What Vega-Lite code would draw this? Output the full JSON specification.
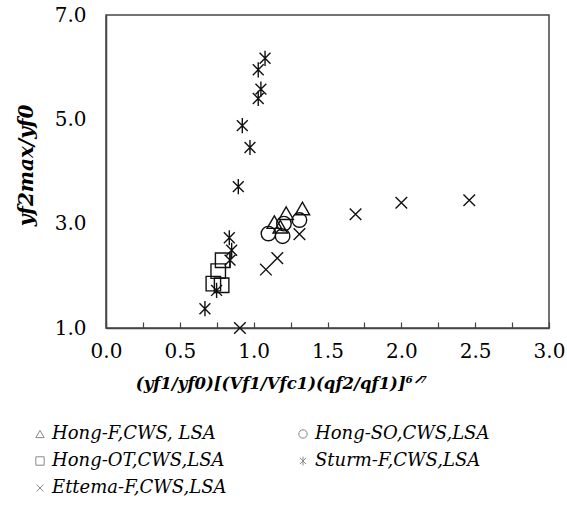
{
  "$schema": "https://vega.github.io/schema/vega-lite/v6.json",
  "width": 443,
  "height": 313,
  "autosize": "none",
  "padding": {"left": 106, "top": 15, "right": 18, "bottom": 182},
  "background": "white",
  "config": {
    "view": {"stroke": "#444", "strokeWidth": 1.5},
    "font": "DejaVu Serif"
  },
  "data": {
    "values": [
      {"series": "Sturm-F,CWS,LSA", "x": 1.077, "y": 6.17},
      {"series": "Sturm-F,CWS,LSA", "x": 1.031, "y": 5.95},
      {"series": "Sturm-F,CWS,LSA", "x": 1.049, "y": 5.58},
      {"series": "Sturm-F,CWS,LSA", "x": 1.031, "y": 5.40},
      {"series": "Sturm-F,CWS,LSA", "x": 0.923, "y": 4.88},
      {"series": "Sturm-F,CWS,LSA", "x": 0.975, "y": 4.46},
      {"series": "Sturm-F,CWS,LSA", "x": 0.896, "y": 3.71},
      {"series": "Sturm-F,CWS,LSA", "x": 0.835, "y": 2.73},
      {"series": "Sturm-F,CWS,LSA", "x": 0.851, "y": 2.49},
      {"series": "Sturm-F,CWS,LSA", "x": 0.84, "y": 2.30},
      {"series": "Sturm-F,CWS,LSA", "x": 0.749, "y": 1.72},
      {"series": "Sturm-F,CWS,LSA", "x": 0.67, "y": 1.37},
      {"series": "Hong-OT,CWS,LSA", "x": 0.79, "y": 2.30},
      {"series": "Hong-OT,CWS,LSA", "x": 0.76, "y": 2.09},
      {"series": "Hong-OT,CWS,LSA", "x": 0.727, "y": 1.85},
      {"series": "Hong-OT,CWS,LSA", "x": 0.783, "y": 1.82},
      {"series": "Hong-F,CWS, LSA", "x": 1.14, "y": 3.03},
      {"series": "Hong-F,CWS, LSA", "x": 1.22, "y": 3.20},
      {"series": "Hong-F,CWS, LSA", "x": 1.33, "y": 3.29},
      {"series": "Hong-F,CWS, LSA", "x": 1.18, "y": 2.94},
      {"series": "Hong-SO,CWS,LSA", "x": 1.10, "y": 2.81},
      {"series": "Hong-SO,CWS,LSA", "x": 1.196, "y": 2.76},
      {"series": "Hong-SO,CWS,LSA", "x": 1.205, "y": 3.00},
      {"series": "Hong-SO,CWS,LSA", "x": 1.31, "y": 3.07},
      {"series": "Ettema-F,CWS,LSA", "x": 1.31, "y": 2.80},
      {"series": "Ettema-F,CWS,LSA", "x": 1.16, "y": 2.34},
      {"series": "Ettema-F,CWS,LSA", "x": 1.083, "y": 2.12},
      {"series": "Ettema-F,CWS,LSA", "x": 0.907, "y": 1.0},
      {"series": "Ettema-F,CWS,LSA", "x": 1.69, "y": 3.18},
      {"series": "Ettema-F,CWS,LSA", "x": 2.0, "y": 3.40},
      {"series": "Ettema-F,CWS,LSA", "x": 2.46, "y": 3.45}
    ]
  },
  "mark": {"type": "point", "filled": false, "stroke": "#111", "strokeWidth": 1.4, "size": 210, "opacity": 1, "clip": false},
  "encoding": {
    "x": {
      "field": "x",
      "type": "quantitative",
      "scale": {"domain": [0, 3], "nice": false, "zero": false},
      "axis": {
        "values": [0, 0.25, 0.5, 0.75, 1, 1.25, 1.5, 1.75, 2, 2.25, 2.5, 2.75, 3],
        "labelExpr": "(datum.value * 2) % 1 == 0 ? format(datum.value, '.1f') : ''",
        "tickSize": -6,
        "tickColor": "#444",
        "tickWidth": 1.2,
        "domainColor": "#444",
        "domainWidth": 1.5,
        "grid": false,
        "labelFont": "DejaVu Serif",
        "labelFontSize": 20,
        "labelColor": "#000",
        "labelPadding": 19,
        "labelFlush": false,
        "labelOverlap": false,
        "title": "(yf1/yf0)[(Vf1/Vfc1)(qf2/qf1)]⁶ᐟ⁷",
        "titleFont": "DejaVu Serif",
        "titleFontSize": 16.5,
        "titleFontWeight": "bold",
        "titleFontStyle": "italic",
        "titleColor": "#000",
        "titleX": 175,
        "titleAlign": "center",
        "titlePadding": 14
      }
    },
    "y": {
      "field": "y",
      "type": "quantitative",
      "scale": {"domain": [1, 7], "nice": false, "zero": false},
      "axis": {
        "values": [1, 3, 5, 7],
        "format": ".1f",
        "ticks": false,
        "domainColor": "#444",
        "domainWidth": 1.5,
        "grid": false,
        "labelFont": "DejaVu Serif",
        "labelFontSize": 20,
        "labelColor": "#000",
        "labelPadding": 20,
        "labelFlush": false,
        "labelOverlap": false,
        "title": "yf2max/yf0",
        "titleFont": "DejaVu Serif",
        "titleFontSize": 20,
        "titleFontWeight": "bold",
        "titleFontStyle": "italic",
        "titleColor": "#000",
        "titleY": 150,
        "titlePadding": 18
      }
    },
    "shape": {
      "field": "series",
      "type": "nominal",
      "scale": {
        "domain": ["Hong-F,CWS, LSA", "Hong-SO,CWS,LSA", "Hong-OT,CWS,LSA", "Sturm-F,CWS,LSA", "Ettema-F,CWS,LSA"],
        "range": ["triangle-up", "circle", "square", "M-0.75,-0.75L0.75,0.75M-0.75,0.75L0.75,-0.75M0,-1.05L0,1.05", "M-0.8,-0.8L0.8,0.8M-0.8,0.8L0.8,-0.8"]
      },
      "legend": {
        "orient": "none",
        "legendX": -75,
        "legendY": 410,
        "title": null,
        "columns": 2,
        "direction": "horizontal",
        "columnPadding": 67,
        "rowPadding": 9,
        "labelFont": "DejaVu Serif",
        "labelFontStyle": "italic",
        "labelFontSize": 18,
        "labelColor": "#000",
        "labelLimit": 300,
        "labelOffset": 3,
        "symbolSize": 70,
        "symbolStrokeWidth": 1,
        "symbolStrokeColor": "#888",
        "symbolFillColor": "transparent"
      }
    }
  }
}
